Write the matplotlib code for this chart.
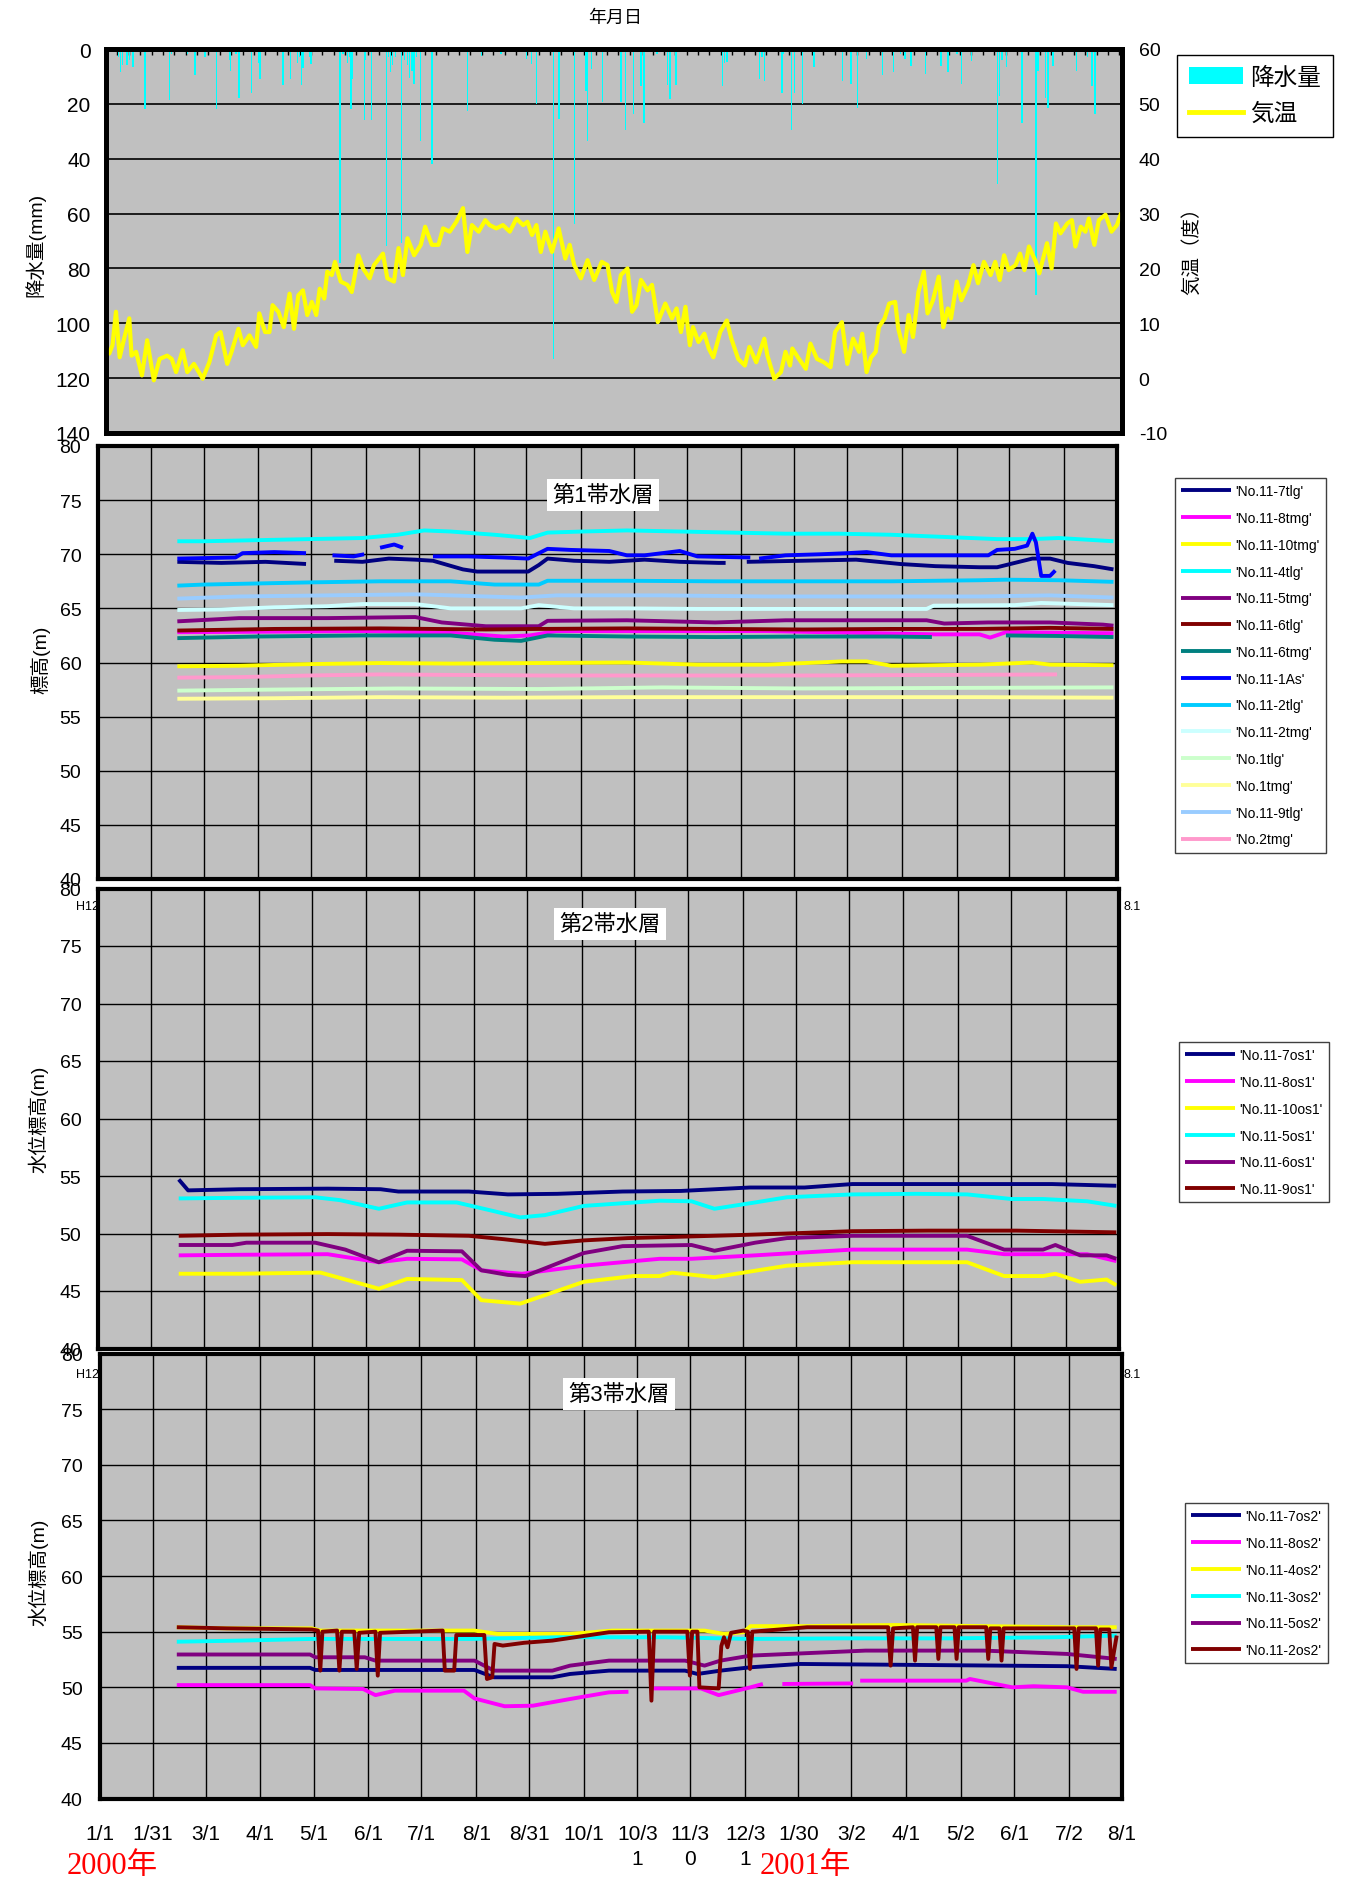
import numpy as np
import matplotlib
matplotlib.use("Agg")
import matplotlib.pyplot as plt
from matplotlib.patches import Patch
from matplotlib.lines import Line2D

plt.rcParams['font.family'] = ['Liberation Sans', 'Noto Sans CJK JP']
plt.rcParams['axes.unicode_minus'] = False

nan = np.nan

# ---- weather (days from 2000-01-01) ----
temp_day = [0, 1.9, 3.7, 5.7, 7.8, 10.8, 13.3, 14.6, 17.2, 20.5, 23.5, 27.3, 30.6, 34.9, 37.5, 40, 43.8, 46.4,
            50.2, 55.2, 59, 62.9, 65.4, 69.2, 71.7, 75.6, 78.1, 81.9, 85.7, 87.5, 90.8, 93.3, 95.1, 98.4, 101.5,
            104.8, 107.3, 109.8, 112.4, 114.9, 117.5, 120, 122, 124.6, 126.3, 128.9, 130.7, 134, 137.8, 140.3,
            144.1, 146.7, 150.5, 153, 158.1, 160.6, 164.4, 167, 169.5, 172.1, 175.9, 179.7, 182.2, 186, 189.8,
            192.4, 196.2, 200, 203.8, 206.3, 208.9, 212.7, 216.5, 219, 222.8, 226.6, 230.5, 234.3, 238.1, 240.6,
            243.2, 245.7, 248.2, 250.8, 254.6, 258.4, 262.2, 264.7, 267.3, 271.1, 274.9, 278.7, 283, 286.3, 288.9,
            291.4, 293.9, 297.7, 300.3, 302.8, 305.4, 309.2, 311.7, 315, 319.3, 323.1, 325.7, 328.2, 330.8, 333.3,
            335.1, 338.2, 341.6, 344.1, 346.7, 350.6, 354.4, 357, 360.9, 364.7, 367.3, 371.2, 375.8, 377.6, 381.5,
            385.3, 387.9, 390.5, 391.8, 395.6, 399.5, 402.1, 405.9, 409.8, 413.6, 416.2, 420.1, 423.2, 426.5,
            429.9, 431.7, 434.2, 436.8, 439.4, 441.2, 444.5, 447.1, 450.5, 452.3, 455.6, 458.2, 460.7, 463.8,
            466.9, 469, 472.1, 475.4, 478, 480.6, 482.4, 485.7, 488.3, 492.2, 495.2, 497.8, 501.2, 505, 507.6,
            510.2, 512.7, 515.3, 519.2, 521.8, 524.3, 526.9, 530.8, 532.8, 537.2, 539.8, 542.3, 544.9, 548.8,
            551.4, 553.4, 556.5, 559.1, 561.1, 564.2, 566.8, 570.6, 574, 577.1, 579.2]
temp_c = [5.4, 4.5, 6.0, 12.1, 3.8, 7.8, 10.9, 4.1, 4.8, 0.5, 6.9, -0.4, 3.5, 4.1, 3.5, 1.1, 5.1, 1.1,
          2.6, -0.1, 2.9, 7.8, 8.4, 2.6, 4.8, 9.0, 6.0, 7.8, 5.7, 11.8, 8.4, 8.4, 13.3, 12.1, 9.3,
          15.4, 9.0, 15.1, 16.0, 11.5, 13.9, 11.5, 16.3, 14.5, 19.4, 18.8, 21.2, 17.6, 17.0, 15.7,
          22.4, 20.0, 18.2, 20.6, 22.7, 18.2, 17.6, 23.7, 18.8, 25.5, 22.4, 24.3, 27.6, 24.3, 24.3,
          27.3, 26.7, 28.5, 31.0, 23.0, 27.9, 26.7, 28.8, 27.9, 27.3, 27.9, 26.7, 29.1, 27.9, 28.5,
          26.1, 27.9, 23.0, 26.7, 23.0, 27.3, 21.8, 24.3, 20.6, 18.2, 21.5, 17.9, 21.2, 20.6, 15.7,
          13.9, 18.8, 20.0, 12.1, 13.3, 17.9, 16.0, 17.0, 10.2, 13.6, 10.9, 12.7, 8.4, 13.0, 6.0,
          9.3, 6.6, 8.1, 5.4, 3.8, 8.4, 10.5, 7.2, 3.5, 2.3, 5.7, 2.9, 7.2, 4.1, -0.1,
          1.1, 4.8, 2.3, 5.4, 3.5, 1.7, 6.3, 3.5, 2.9, 2.0, 8.4, 10.2, 2.6, 7.2,
          4.8, 8.1, 1.1, 3.8, 4.8, 9.3, 10.9, 13.6, 13.9, 9.0, 4.8, 11.5, 7.5, 15.7,
          19.4, 11.8, 14.2, 18.5, 9.3, 12.7, 10.9, 17.6, 14.2, 17.0, 20.6, 17.3, 21.2, 18.8, 21.2,
          17.9, 22.4, 19.7, 20.6, 22.7, 19.7, 24.0, 21.2, 19.1, 24.6, 20.0, 28.2, 26.4, 28.2,
          28.8, 24.0, 27.6, 26.7, 29.1, 24.3, 28.8, 29.8, 26.7, 27.9, 29.8]

rain_day = [7, 8.3, 9.5, 12, 13.3, 15.4, 21, 22.2, 29.8, 36.2, 37.5, 46.4, 50.7, 56.5, 63.1, 70.5, 71, 74.3,
            76, 83.2, 87, 88, 90.8, 94.6, 101, 102.2, 105.3, 109.3, 110.6, 111.6, 112.4, 116.2, 117, 122.5,
            133.5, 135.2, 137.8, 139, 139.8, 140.8, 147.4, 147.9, 151.7, 160.1, 161.1, 162.4, 163.7, 165.2,
            168.7, 170.3, 172, 173.3, 174.6, 175.9, 177.1, 179.7, 186, 206.3, 214.5, 225.4, 240.1, 242.9,
            245.7, 255.3, 258.6, 267.3, 274.1, 274.9, 277, 283.3, 294, 296.5, 301.3, 305.4, 307.2, 314.5,
            320.6, 321.9, 325.4, 331.3, 337.7, 351.9, 353, 354.4, 360.9, 373.2, 374.5, 375.8, 385.9, 386.6,
            391.3, 393.1, 397.7, 404.1, 420.6, 425.2, 429.1, 434.2, 443.3, 449.7, 453.5, 456.1, 459.5, 467.7,
            476.7, 480.6, 485.7, 488.3, 494.2, 508.9, 510.2, 511.5, 514, 523, 530.8, 532, 536.4, 537.7,
            540.6, 547.5, 553.9, 560.4, 562.9, 564.7, 573.2]
rain_mm = [3, 8.5, 6, 6, 4, 6.7, 1, 22, 1, 18.7, 2, 2, 9.4, 3, 22, 4, 8, 2,
           17.7, 15.9, 5, 11, 1, 1, 13, 1, 11, 5, 3, 13, 7, 3, 5.5, 1,
           78, 2, 5, 3, 22, 11, 26, 4, 26, 72, 3, 8.5, 6, 3,
           70.7, 4, 6, 10.4, 8, 12.8, 3, 33.5, 42, 22.6, 2.4, 1.8, 3.7, 5.5,
           20, 113, 25.6, 63.8, 15.2, 33.5, 7.3, 19.5, 19.5, 29.6, 23.8, 13.4, 27, 2,
           13, 18.3, 13, 1, 1, 13.4, 5, 4.9, 1, 11, 3, 11.6, 15.9, 2,
           29.5, 15.9, 20, 6.7, 11.6, 12.8, 21.6, 3.7, 9.4, 8.5, 2, 3.7, 6.1, 9.1,
           6.1, 8.5, 2, 12.8, 4.3, 49.4, 17, 4, 6.7, 26.8, 89.6, 8, 17.7, 21.6,
           6.1, 1, 7.9, 3, 13.4, 23.8, 0.6]

# ---- date axis for the well panels ----
tick_days = [0, 30, 60, 91, 121, 152, 182, 213, 243, 274, 304, 334, 365, 395, 425, 456, 487, 517, 548, 578]
tick_labels = ['1/1', '1/31', '3/1', '4/1', '5/1', '6/1', '7/1', '8/1', '8/31', '10/1', '10/3\n1', '11/3\n0',
               '12/3\n1', '1/30', '3/2', '4/1', '5/2', '6/1', '7/2', '8/1']

# ---- aquifer 1 ----
d_7tlg = [45, 70, 95, 118, 125, 134, 150, 160, 165, 180, 190, 207, 215, 230, 244, 250, 255, 270, 290, 310, 330,
          352, 356, 360, 368, 400, 430, 455, 475, 500, 510, 530, 540, 550, 565, 576]
v_7tlg = [69.3, 69.2, 69.3, 69.1, nan, 69.4, 69.3, 69.5, 69.6, 69.5, 69.4, 68.6, 68.4, 68.4, 68.4, 69.0, 69.6,
          69.4, 69.3, 69.5, 69.3, 69.2, 69.2, nan, 69.3, 69.4, 69.5, 69.1, 68.9, 68.8, 68.8, 69.6, 69.6, 69.2,
          68.9, 68.6]
d_8tmg = [45, 100, 150, 200, 230, 245, 260, 320, 380, 475, 500, 506, 515, 576]
v_8tmg = [62.8, 62.85, 62.9, 62.75, 62.4, 62.5, 62.9, 62.9, 62.9, 62.6, 62.6, 62.3, 62.8, 62.7]
d_10tmg = [45, 80, 120, 160, 200, 250, 300, 340, 380, 422, 436, 450, 500, 530, 540, 576]
v_10tmg = [59.65, 59.7, 59.85, 59.95, 59.9, 59.95, 60.0, 59.8, 59.8, 60.1, 60.1, 59.7, 59.8, 60.0, 59.8, 59.75]
d_4tlg = [45, 60, 90, 120, 150, 170, 185, 200, 225, 245, 255, 275, 300, 330, 360, 390, 420, 450, 480, 510,
          530, 545, 576]
v_4tlg = [71.2, 71.2, 71.3, 71.4, 71.5, 71.8, 72.2, 72.1, 71.8, 71.5, 72.0, 72.1, 72.2, 72.1, 72.0, 71.9,
          71.9, 71.8, 71.6, 71.4, 71.4, 71.5, 71.2]
d_5tmg = [45, 80, 130, 180, 195, 220, 250, 255, 300, 350, 390, 430, 470, 480, 505, 540, 570, 576]
v_5tmg = [63.8, 64.1, 64.1, 64.2, 63.7, 63.35, 63.35, 63.85, 63.9, 63.7, 63.9, 63.9, 63.9, 63.6, 63.7, 63.7,
          63.5, 63.4]
d_6tlg = [45, 100, 160, 220, 250, 300, 350, 400, 450, 500, 540, 576]
v_6tlg = [62.95, 63.1, 63.15, 63.05, 63.1, 63.15, 63.1, 63.05, 63.1, 63.1, 63.2, 63.1]
d_6tmg = [45, 90, 150, 200, 225, 240, 255, 300, 350, 400, 450, 473, 490, 515, 545, 576]
v_6tmg = [62.25, 62.4, 62.5, 62.5, 62.1, 62.0, 62.5, 62.4, 62.35, 62.4, 62.4, 62.35, nan, 62.5, 62.45, 62.35]
d_1As = [45, 78, 82, 100, 118, 125, 133, 145, 151, 153, 160, 168, 173, 180, 190, 210, 230, 244, 255, 268, 290,
         300, 310, 330, 340, 370, 372, 375, 390, 410, 425, 436, 450, 480, 505, 510, 520, 527, 530, 532, 535,
         540, 543]
v_1As = [69.6, 69.7, 70.1, 70.2, 70.1, nan, 69.9, 69.8, 70.0, nan, 70.6, 70.9, 70.6, nan, 69.8, 69.8, 69.7,
         69.6, 70.5, 70.4, 70.3, 69.9, 69.9, 70.3, 69.8, 69.7, nan, 69.6, 69.9, 70.0, 70.1, 70.2, 69.9, 69.9,
         69.9, 70.4, 70.5, 70.8, 71.9, 71.1, 68.0, 68.0, 68.5]
d_2tlg = [45, 60, 90, 120, 160, 200, 225, 250, 255, 300, 350, 400, 450, 500, 515, 545, 576]
v_2tlg = [67.1, 67.2, 67.3, 67.4, 67.5, 67.5, 67.2, 67.2, 67.55, 67.55, 67.5, 67.5, 67.5, 67.6, 67.65, 67.6, 67.45]
d_2tmg = [45, 70, 100, 130, 150, 180, 200, 240, 250, 270, 300, 340, 400, 470, 474, 520, 535, 576]
v_2tmg = [64.85, 64.9, 65.1, 65.2, 65.4, 65.4, 65.0, 65.0, 65.3, 65.0, 65.0, 64.95, 64.95, 64.95, 65.25, 65.3,
          65.5, 65.3]
d_1tlg = [45, 100, 170, 250, 320, 400, 480, 576]
v_1tlg = [57.4, 57.5, 57.6, 57.55, 57.7, 57.6, 57.65, 57.7]
d_1tmg = [45, 100, 160, 230, 300, 400, 500, 576]
v_1tmg = [56.65, 56.7, 56.8, 56.75, 56.8, 56.8, 56.8, 56.75]
d_9tlg = [45, 80, 130, 180, 240, 260, 320, 380, 440, 500, 540, 576]
v_9tlg = [65.9, 66.1, 66.2, 66.3, 66.0, 66.2, 66.2, 66.1, 66.1, 66.1, 66.2, 66.0]
d_n2tmg = [45, 80, 120, 160, 250, 320, 400, 480, 544]
v_n2tmg = [58.6, 58.65, 58.8, 58.9, 58.8, 58.8, 58.8, 58.85, 58.9]

# ---- aquifer 2 ----
d_7os1 = [45.7, 51, 80, 130, 160, 170, 210, 232, 260, 297, 330, 369, 400, 427, 460, 500, 540, 576.5]
v_7os1 = [54.7, 53.75, 53.85, 53.9, 53.85, 53.65, 53.65, 53.4, 53.45, 53.65, 53.7, 54.0, 54.0, 54.3, 54.3,
          54.3, 54.3, 54.15]
d_8os1 = [45.7, 80, 130, 159, 175, 206, 217, 240, 275, 318, 336, 372, 427, 492, 513, 560, 576.5]
v_8os1 = [48.1, 48.15, 48.2, 47.5, 47.8, 47.75, 46.8, 46.5, 47.2, 47.8, 47.8, 48.1, 48.6, 48.6, 48.2, 48.2, 47.6]
d_10os1 = [45.7, 80, 126, 159, 175, 206, 217, 239, 275, 303, 318, 325, 349, 390, 427, 492, 513, 535, 542, 556,
           571, 576.5]
v_10os1 = [46.5, 46.5, 46.6, 45.2, 46.05, 45.95, 44.2, 43.9, 45.8, 46.3, 46.3, 46.6, 46.2, 47.2, 47.5, 47.5,
           46.3, 46.3, 46.5, 45.8, 46.0, 45.5]
d_5os1 = [45.7, 76, 123, 137, 159, 175, 203, 217, 239, 253, 275, 318, 336, 349, 372, 390, 427, 463, 492, 517,
          535, 560, 576.5]
v_5os1 = [53.05, 53.1, 53.15, 52.9, 52.15, 52.7, 52.7, 52.2, 51.4, 51.6, 52.4, 52.85, 52.8, 52.15, 52.7, 53.15,
          53.4, 53.45, 53.4, 53.0, 53.0, 52.8, 52.4]
d_6os1 = [45.7, 76, 84, 123, 140, 159, 175, 206, 217, 232, 242, 275, 297, 336, 349, 372, 390, 427, 492, 513,
          535, 542, 556, 571, 576.5]
v_6os1 = [49.0, 49.0, 49.2, 49.2, 48.6, 47.5, 48.5, 48.45, 46.8, 46.4, 46.3, 48.3, 48.9, 49.0, 48.5, 49.2, 49.6,
          49.8, 49.8, 48.6, 48.6, 49.0, 48.1, 48.1, 47.8]
d_9os1 = [45.7, 80, 130, 170, 210, 230, 253, 275, 300, 325, 360, 390, 427, 470, 520, 576.5]
v_9os1 = [49.8, 49.9, 49.95, 49.9, 49.8, 49.5, 49.1, 49.4, 49.6, 49.7, 49.85, 50.0, 50.2, 50.25, 50.25, 50.1]

# ---- aquifer 3 ----
d_7os2 = [43.7, 119, 122, 212, 223, 256, 266, 288, 331, 338, 351, 368, 396, 509, 547, 575]
v_7os2 = [51.75, 51.75, 51.56, 51.56, 50.9, 50.9, 51.2, 51.5, 51.5, 51.2, 51.5, 51.8, 52.1, 51.95, 51.9, 51.65]
d_8os2 = [43.7, 119, 122, 149, 156, 167, 206, 212, 229, 245, 266, 288, 299, 305, 311, 340, 350, 368, 375, 380,
          386, 426, 428, 430, 490, 492, 516, 528, 547, 556, 575]
v_8os2 = [50.2, 50.2, 49.9, 49.85, 49.3, 49.7, 49.7, 49.0, 48.3, 48.35, 48.95, 49.55, 49.6, nan, 49.9, 49.9,
          49.3, 50.0, 50.3, nan, 50.3, 50.35, nan, 50.6, 50.6, 50.75, 50.0, 50.1, 50.0, 49.6, 49.6]
d_4os2 = [43.7, 72, 120, 125, 212, 225, 266, 290, 342, 353, 364, 368, 400, 450, 500, 547, 575]
v_4os2 = [55.4, 55.3, 55.3, 55.1, 55.1, 54.8, 54.8, 55.1, 55.1, 54.8, 54.95, 55.5, 55.5, 55.6, 55.5, 55.4, 55.4]
d_3os2 = [43.7, 80, 120, 210, 260, 320, 368, 420, 480, 540, 575]
v_3os2 = [54.1, 54.2, 54.35, 54.35, 54.5, 54.5, 54.35, 54.4, 54.4, 54.5, 54.65]
d_5os2 = [43.7, 119, 122, 150, 156, 212, 223, 256, 266, 288, 331, 342, 351, 368, 433, 500, 547, 575]
v_5os2 = [52.95, 52.95, 52.7, 52.7, 52.4, 52.4, 51.5, 51.5, 51.95, 52.4, 52.4, 51.95, 52.4, 52.85, 53.3, 53.3,
          53.0, 52.55]
d_2os2 = [43.7, 72, 120, 123.5, 124.8, 126, 134.3, 135.6, 137, 144, 145.4, 146.8, 156, 157.3, 158.6, 194,
          195.2, 200.5, 201.7, 217.5, 219, 222, 223.3, 228, 240, 256, 288, 310.5, 312, 313.5, 332.3, 333.7,
          335, 338, 339.1, 350, 351.5, 353, 355, 357, 364, 366.5, 367.7, 369, 400, 445.8, 447.2, 448.6, 459.8,
          461, 462.2, 473, 474.2, 475.4, 483.3, 484.5, 485.7, 501.2, 502.4, 503.6, 508.7, 509.9, 511.1, 551,
          552.3, 553.5, 563.3, 564.5, 565.7, 570.8, 572, 575]
v_2os2 = [55.4, 55.3, 55.2, 55.1, 51.5, 55.0, 55.1, 51.5, 55.0, 55.0, 51.65, 54.9, 55.0, 51.05, 54.9, 55.1,
          51.5, 51.5, 54.7, 54.7, 50.75, 50.9, 53.9, 53.75, 54.0, 54.2, 54.95, 55.0, 48.8, 55.0, 55.0, 51.05,
          55.0, 55.0, 50.0, 49.9, 53.7, 54.5, 53.6, 54.9, 55.1, 55.0, 51.65, 55.0, 55.4, 55.4, 51.95, 55.3, 55.4,
          52.4, 55.4, 55.4, 52.55, 55.4, 55.4, 52.55, 55.4, 55.4, 52.55, 55.3, 55.3, 52.4, 55.3, 55.3,
          51.65, 55.3, 55.3, 51.95, 55.2, 55.2, 51.8, 54.65]

aq1 = [(d_7tlg, v_7tlg, '#000080', "'No.11-7tlg'"),
       (d_8tmg, v_8tmg, '#ff00ff', "'No.11-8tmg'"),
       (d_10tmg, v_10tmg, '#ffff00', "'No.11-10tmg'"),
       (d_4tlg, v_4tlg, '#00ffff', "'No.11-4tlg'"),
       (d_5tmg, v_5tmg, '#800080', "'No.11-5tmg'"),
       (d_6tlg, v_6tlg, '#800000', "'No.11-6tlg'"),
       (d_6tmg, v_6tmg, '#008080', "'No.11-6tmg'"),
       (d_1As, v_1As, '#0000ff', "'No.11-1As'"),
       (d_2tlg, v_2tlg, '#00ccff', "'No.11-2tlg'"),
       (d_2tmg, v_2tmg, '#ccffff', "'No.11-2tmg'"),
       (d_1tlg, v_1tlg, '#ccffcc', "'No.1tlg'"),
       (d_1tmg, v_1tmg, '#ffff99', "'No.1tmg'"),
       (d_9tlg, v_9tlg, '#99ccff', "'No.11-9tlg'"),
       (d_n2tmg, v_n2tmg, '#ff99cc', "'No.2tmg'")]
aq2 = [(d_7os1, v_7os1, '#000080', "'No.11-7os1'"),
       (d_8os1, v_8os1, '#ff00ff', "'No.11-8os1'"),
       (d_10os1, v_10os1, '#ffff00', "'No.11-10os1'"),
       (d_5os1, v_5os1, '#00ffff', "'No.11-5os1'"),
       (d_6os1, v_6os1, '#800080', "'No.11-6os1'"),
       (d_9os1, v_9os1, '#800000', "'No.11-9os1'")]
aq3 = [(d_7os2, v_7os2, '#000080', "'No.11-7os2'"),
       (d_8os2, v_8os2, '#ff00ff', "'No.11-8os2'"),
       (d_4os2, v_4os2, '#ffff00', "'No.11-4os2'"),
       (d_3os2, v_3os2, '#00ffff', "'No.11-3os2'"),
       (d_5os2, v_5os2, '#800080', "'No.11-5os2'"),
       (d_2os2, v_2os2, '#800000', "'No.11-2os2'")]

W, H = 1357, 1883
fig = plt.figure(figsize=(W / 100, H / 100), dpi=100)


def box(left, top, right, bottom):
    return [left / W, 1 - bottom / H, (right - left) / W, (bottom - top) / H]


GRAY = '#c0c0c0'

# ---- rainfall / temperature ----
ax0 = fig.add_axes(box(106, 50, 1122, 434))
ax0.set_facecolor(GRAY)
ax0.bar(rain_day, rain_mm, width=0.8, color='#00ffff', zorder=2)
ax0.set_xlim(0, 580)
ax0.set_ylim(140, 0)
ax0.set_yticks(range(0, 141, 20))
ax0.yaxis.grid(True, color='black', lw=1.2)
ax0.set_axisbelow(True)
ax0.set_xticks(np.arange(0, 580, 6.5))
ax0.tick_params(axis='x', top=True, bottom=False, labeltop=False, labelbottom=False,
                direction='in', length=4, width=1)
ax0.tick_params(axis='y', length=0, pad=11, labelsize=15)
for s in ax0.spines.values():
    s.set_linewidth(3.5)

ax0t = ax0.twinx()
ax0t.plot(temp_day, temp_c, color='#ffff00', lw=3)
ax0t.set_ylim(-10, 60)
ax0t.set_yticks(range(-10, 61, 10))
ax0t.tick_params(axis='y', length=0, pad=12, labelsize=14)
for s in ax0t.spines.values():
    s.set_linewidth(3.5)

fig.legend([Patch(facecolor='#00ffff'), Line2D([], [], color='#ffff00', lw=3.5)], ['降水量', '気温'],
           loc='upper left', bbox_to_anchor=(1177 / W, 1 - 56 / H), fontsize=17, frameon=True,
           fancybox=False, edgecolor='black', framealpha=1, borderaxespad=0, handlelength=2.3,
           handleheight=0.75, labelspacing=0.6, handletextpad=0.3, borderpad=0.5)

fig.text(615 / W, 1 - 18 / H, '年月日', ha='center', va='center', fontsize=13)
fig.text(35 / W, 1 - 245 / H, '降水量(mm)', rotation=90, ha='center', va='center', fontsize=14)
fig.text(1192 / W, 1 - 246 / H, '気温（度）', rotation=90, ha='center', va='center', fontsize=14)


# ---- water level panels ----
def level_panel(rect, series, title, title_xy, ylab, ylab_xy, leg_xy, show_dates):
    ax = fig.add_axes(rect)
    ax.set_facecolor(GRAY)
    for d, v, c, lab in series:
        ax.plot(d, v, color=c, lw=2.8, label=lab, solid_capstyle='butt')
    ax.set_xlim(0, 578)
    ax.set_ylim(40, 80)
    ax.set_yticks(range(40, 81, 5))
    ax.set_xticks(tick_days)
    ax.grid(True, color='black', lw=1)
    ax.set_axisbelow(True)
    ax.tick_params(axis='both', length=0)
    ax.tick_params(axis='y', pad=12, labelsize=14)
    if show_dates:
        ax.set_xticklabels(tick_labels)
        ax.tick_params(axis='x', pad=18, labelsize=15)
        for t in ax.get_xticklabels():
            t.set_linespacing(1.45)
    else:
        ax.set_xticklabels([])
    for s in ax.spines.values():
        s.set_linewidth(3)
    ax.legend(loc='upper left', bbox_to_anchor=(leg_xy[0] / W, 1 - leg_xy[1] / H),
              bbox_transform=fig.transFigure, fontsize=10, frameon=True, fancybox=False,
              edgecolor='#404040', framealpha=1, borderaxespad=0, handlelength=3.6,
              handletextpad=0.3, labelspacing=0.92, borderpad=0.45)
    fig.text(title_xy[0] / W, 1 - title_xy[1] / H, title, ha='center', va='center', fontsize=16,
             bbox=dict(facecolor='white', edgecolor='none', pad=4))
    fig.text(ylab_xy[0] / W, 1 - ylab_xy[1] / H, ylab, rotation=90, ha='center', va='center', fontsize=14)
    return ax


level_panel(box(98, 447, 1117, 880), aq1, '第1帯水層', (603, 496), '標高(m)', (40, 660), (1175, 479), False)
level_panel(box(98, 889.5, 1119, 1349.5), aq2, '第2帯水層', (610, 925), '水位標高(m)', (38, 1119),
            (1179, 1043), False)
level_panel(box(99.5, 1354.5, 1122, 1799.6), aq3, '第3帯水層', (619, 1395), '水位標高(m)', (38, 1572),
            (1185, 1504), True)

for y in (907, 1375):
    fig.text(76 / W, 1 - y / H, 'H12', ha='left', va='center', fontsize=9)
    fig.text(1124 / W, 1 - y / H, '8.1', ha='left', va='center', fontsize=9)

serif = ['Liberation Serif', 'Noto Sans CJK JP']
fig.text(112 / W, 1 - 1867 / H, '2000年', color='red', ha='center', va='center', fontsize=22, family=serif)
fig.text(805 / W, 1 - 1867 / H, '2001年', color='red', ha='center', va='center', fontsize=22, family=serif)

fig.savefig('out.png', dpi=100, facecolor='white')
